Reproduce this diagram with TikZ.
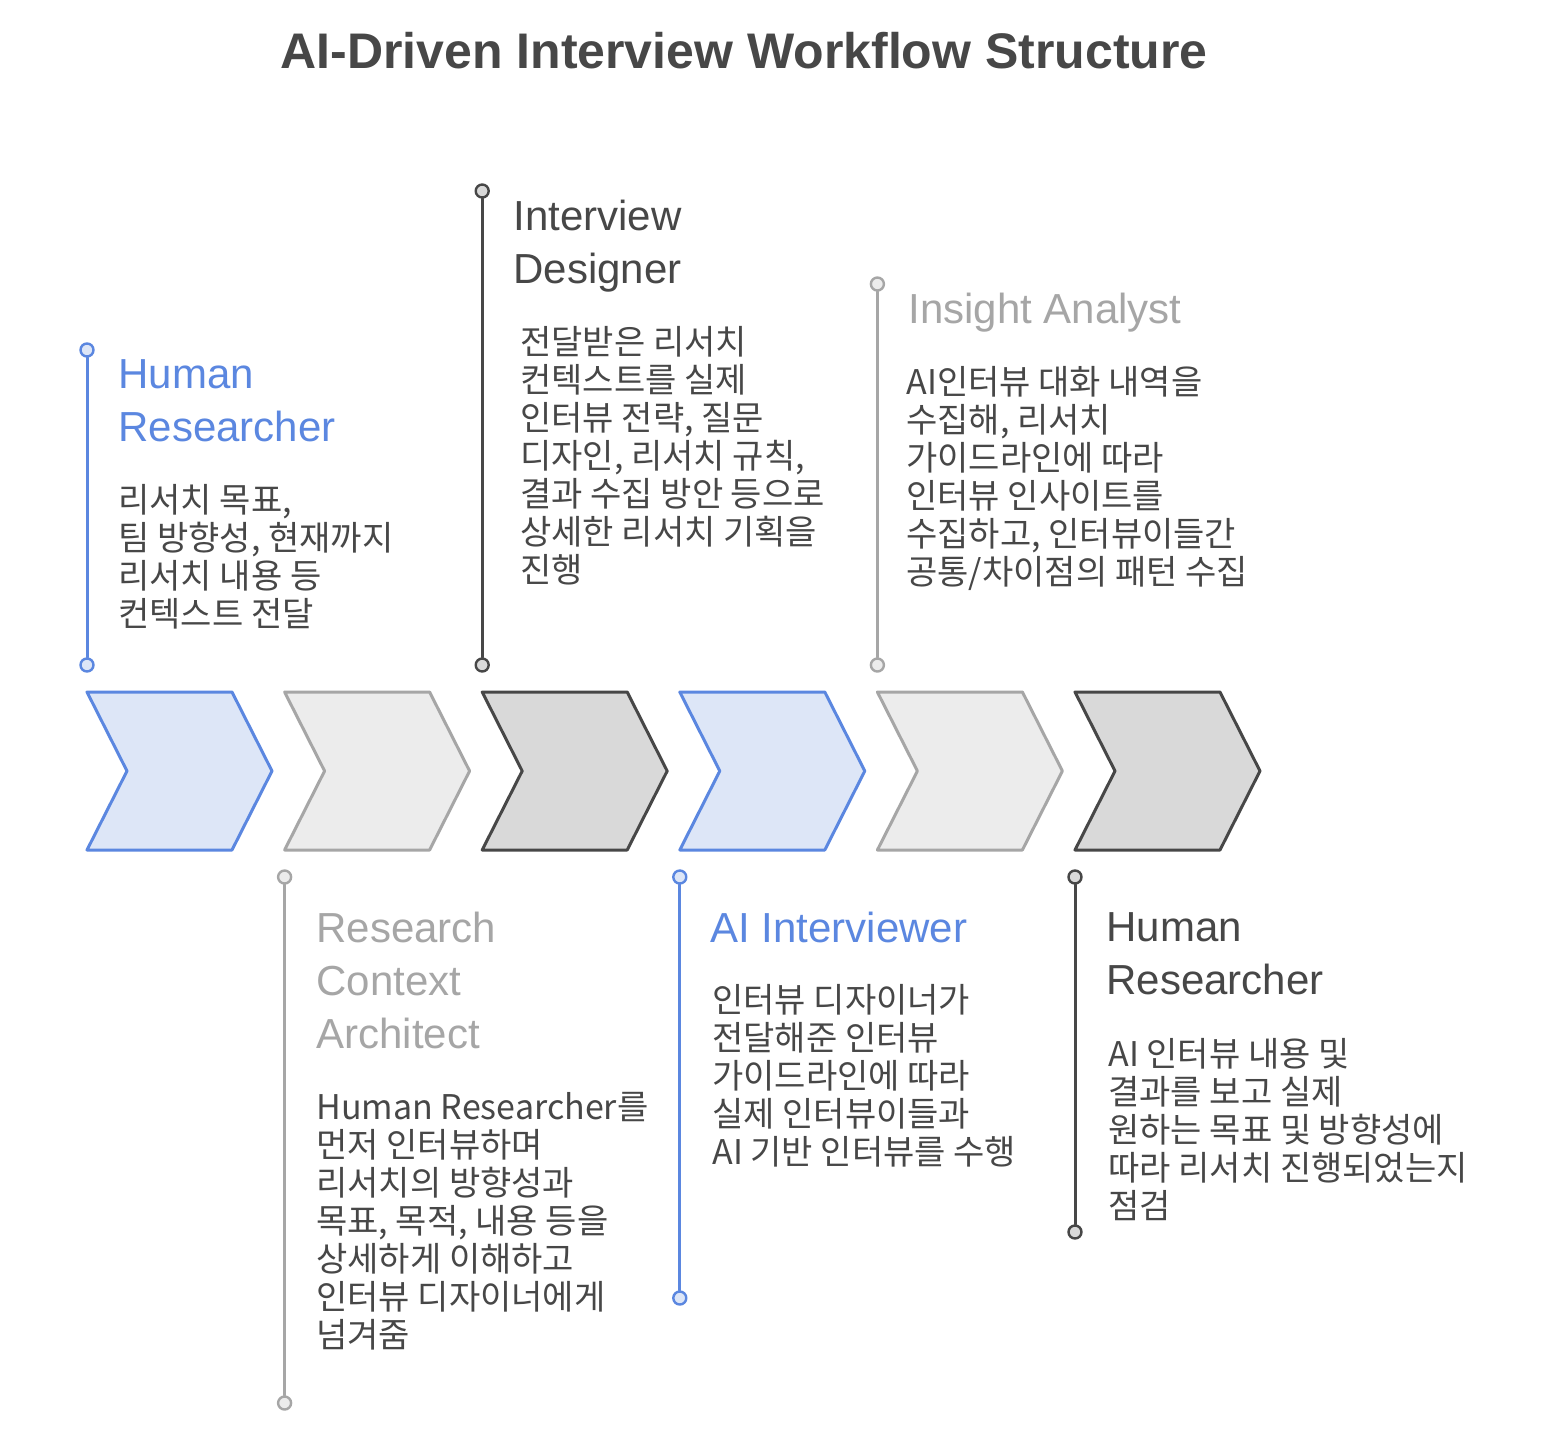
\documentclass[tikz,border=0pt]{standalone}
\usepackage{fontspec}
\setmainfont{Noto Sans CJK KR}
\newfontfamily\latinfont{Liberation Sans}
\definecolor{lineblu}{HTML}{5B87E0}
\definecolor{fillblu}{HTML}{DDE6F7}
\definecolor{linelgr}{HTML}{A6A6A6}
\definecolor{filllgr}{HTML}{ECECEC}
\definecolor{linedgr}{HTML}{474747}
\definecolor{filldgr}{HTML}{D9D9D9}
\newcommand\ttlfont{\latinfont\bfseries\fontsize{25}{30}\selectfont}
\newcommand\hdfont{\latinfont\fontsize{21}{26.5}\selectfont}
\newcommand\bdfont{\fontsize{17}{19}\selectfont}
\tikzset{
  dot/.style={circle, line width=1.2pt, inner sep=0pt, minimum size=6.5pt},
  head/.style={anchor=north west, inner sep=0pt, align=left, font=\hdfont},
  body/.style={anchor=north west, inner sep=0pt, align=left, font=\bdfont, text=linedgr}
}
\begin{document}
\begin{tikzpicture}[x=0.5pt, y=-0.5pt, line join=round, line cap=round]
	\fill[white] (0,0) rectangle (1544,1448);
	\useasboundingbox (0,0) rectangle (1544,1448);
	\node[font=\ttlfont, text=linedgr] (title) at (744,51) {AI-Driven Interview Workflow Structure};
	\foreach \i/\c in {0/blu,1/lgr,2/dgr,3/blu,4/lgr,5/dgr}
	\draw[line width=1.5pt, draw=line\c, fill=fill\c] ({87+197.6*\i},692) -- ++(145,0) -- ++(40,79) -- ++(-40,79) -- ++(-145,0) -- ++(40,-79) -- cycle;
	\foreach \i/\c/\ya/\yb in {1/blu/350/665, 2/lgr/877/1403, 3/dgr/191/665, 4/blu/877/1298, 5/lgr/284/665, 6/dgr/877/1232} {
		\node[dot, draw=line\c, fill=fill\c] (a\i) at ({87+197.6*(\i-1)},\ya) {};
		\node[dot, draw=line\c, fill=fill\c] (b\i) at ({87+197.6*(\i-1)},\yb) {};
		\draw[line width=1.5pt, line\c] (a\i) -- (b\i);
	}
	\node[head, text=lineblu] (h1) at (118,359) {Human\\Researcher};
	\node[body] (d1) at (118,484) {리서치 목표,\\팀 방향성, 현재까지\\리서치 내용 등\\컨텍스트 전달};
	\node[head, text=linelgr] (h2) at (316,912) {Research\\Context\\Architect};
	\node[body] (d2) at (316,1092) {Human Researcher를\\먼저 인터뷰하며\\리서치의 방향성과\\목표, 목적, 내용 등을\\상세하게 이해하고\\인터뷰 디자이너에게\\넘겨줌};
	\node[head, text=linedgr] (h3) at (513,200) {Interview\\Designer};
	\node[body] (d3) at (520,326) {전달받은 리서치\\컨텍스트를 실제\\인터뷰 전략, 질문\\디자인, 리서치 규칙,\\결과 수집 방안 등으로\\상세한 리서치 기획을\\진행};
	\node[head, text=lineblu] (h4) at (710,912) {AI Interviewer};
	\node[body] (d4) at (712,984) {인터뷰 디자이너가\\전달해준 인터뷰\\가이드라인에 따라\\실제 인터뷰이들과\\AI 기반 인터뷰를 수행};
	\node[head, text=linelgr] (h5) at (908,293) {Insight Analyst};
	\node[body] (d5) at (906,366) {AI인터뷰 대화 내역을\\수집해, 리서치\\가이드라인에 따라\\인터뷰 인사이트를\\수집하고, 인터뷰이들간\\공통/차이점의 패턴 수집};
	\node[head, text=linedgr] (h6) at (1106,912) {Human\\Researcher};
	\node[body] (d6) at (1108,1038) {AI 인터뷰 내용 및\\결과를 보고 실제\\원하는 목표 및 방향성에\\따라 리서치 진행되었는지\\점검};
\end{tikzpicture}
\end{document}
